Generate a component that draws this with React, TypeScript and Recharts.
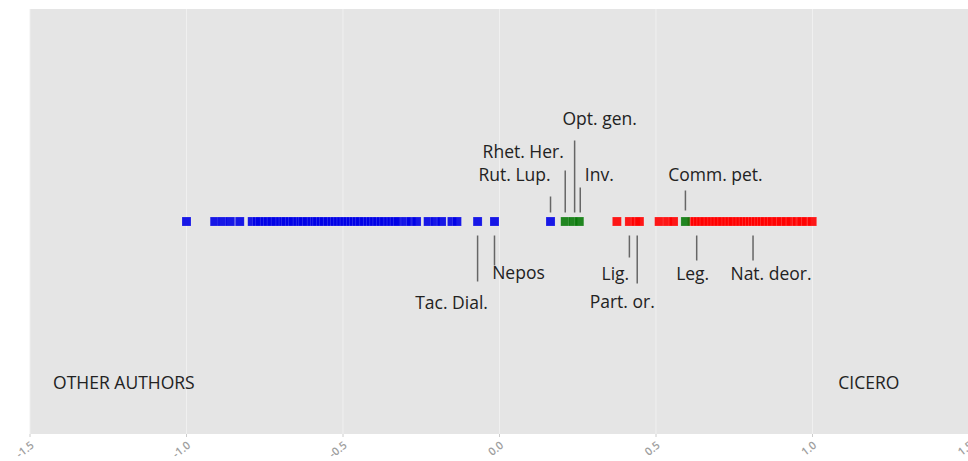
import {
  CartesianGrid,
  ReferenceDot,
  Scatter,
  ScatterChart,
  XAxis,
  YAxis,
} from "recharts";

// positions along the discriminant axis
const otherAuthors = [
  -1.0, -0.91, -0.885, -0.86, -0.83, -0.79, -0.775, -0.765, -0.75, -0.74, -0.728, -0.715,
  -0.7, -0.69, -0.682, -0.67, -0.66, -0.645, -0.635, -0.627, -0.615, -0.6, -0.59, -0.582,
  -0.57, -0.56, -0.548, -0.535, -0.525, -0.515, -0.505, -0.495, -0.485, -0.475, -0.465,
  -0.455, -0.445, -0.432, -0.42, -0.41, -0.4, -0.39, -0.378, -0.368, -0.355, -0.345,
  -0.335, -0.325, -0.3, -0.282, -0.265, -0.228, -0.205, -0.185, -0.152, -0.136, -0.07,
  -0.016, 0.163,
];
const disputed = [0.21, 0.235, 0.255, 0.594];
const cicero = [
  0.375, 0.415, 0.435, 0.447, 0.51, 0.537, 0.556, 0.615, 0.625, 0.635, 0.645, 0.655, 0.668,
  0.68, 0.69, 0.7, 0.712, 0.725, 0.735, 0.745, 0.76, 0.77, 0.78, 0.79, 0.8, 0.81, 0.82,
  0.83, 0.838, 0.848, 0.86, 0.87, 0.885, 0.9, 0.915, 0.93, 0.95, 0.965, 0.98, 0.999,
];

const workNames = [
  "Tac. Dial.", "Nepos", "Rut. Lup.", "Rhet. Her.", "Opt. gen.", "Inv.",
  "Lig.", "Part. or.", "Comm. pet.", "Leg.", "Nat. deor.",
];
const workValues = [-0.07, -0.016, 0.163, 0.21, 0.24, 0.258, 0.415, 0.44, 0.594, 0.63, 0.81];

const xTicks = [-1.5, -1.0, -0.5, 0.0, 0.5, 1.0, 1.5];

// label placement relative to the point: line start/end and text centre (px)
const labelLayout: Record<string, { y1: number; y2: number; dx: number; dy: number }> = {
  "Tac. Dial.": { y1: 14, y2: 60, dx: -26, dy: 80 },
  Nepos: { y1: 14, y2: 44, dx: 24, dy: 50 },
  "Rut. Lup.": { y1: -9, y2: -25, dx: -36, dy: -48 },
  "Rhet. Her.": { y1: -9, y2: -51, dx: -42, dy: -71 },
  "Opt. gen.": { y1: -9, y2: -81, dx: 25, dy: -104 },
  "Inv.": { y1: -9, y2: -34, dx: 19, dy: -48 },
  "Lig.": { y1: 14, y2: 36, dx: -14, dy: 51 },
  "Part. or.": { y1: 14, y2: 62, dx: -15, dy: 79 },
  "Comm. pet.": { y1: -11, y2: -31, dx: 30, dy: -48 },
  "Leg.": { y1: 14, y2: 39, dx: -4, dy: 51 },
  "Nat. deor.": { y1: 14, y2: 39, dx: 18, dy: 51 },
};

const FONT = "'Open Sans', sans-serif";

const toPoints = (xs: number[]) => xs.map((x) => ({ x, y: 0.5 }));
const works = workNames.map((name, i) => ({ name, x: workValues[i], y: 0.5 }));

function square(color: string) {
  return (props: any) => {
    const { cx, cy } = props;
    if (cx == null || cy == null) return <g />;
    return (
      <rect
        x={cx - 4.5}
        y={cy - 4.5}
        width={9}
        height={9}
        fill={color}
        fillOpacity={0.9}
        stroke="#ffffff"
        strokeOpacity={0.25}
        strokeWidth={0.6}
      />
    );
  };
}

function WorkLabel(props: any) {
  const { cx, cy, payload } = props;
  if (cx == null || cy == null) return <g />;
  const l = labelLayout[payload.name];
  return (
    <g>
      <line x1={cx} x2={cx} y1={cy + l.y1} y2={cy + l.y2} stroke="#666" strokeWidth={1.5} />
      <text
        x={cx + l.dx}
        y={cy + l.dy}
        textAnchor="middle"
        dominantBaseline="central"
        fontFamily={FONT}
        fontSize={17.5}
        fill="#222"
      >
        {payload.name}
      </text>
    </g>
  );
}

function AngledTick(props: any) {
  const { x, y, payload } = props;
  return (
    <g transform={`translate(${x},${y})`}>
      <text
        x={0}
        y={0}
        dy={9}
        dx={-1}
        textAnchor="end"
        transform="rotate(-38)"
        fontFamily={FONT}
        fontSize={11}
        fontWeight={600}
        fill="#a0a0a0"
      >
        {payload.value.toFixed(1)}
      </text>
    </g>
  );
}

export default function App() {
  return (
    <div style={{ position: "absolute", left: 0, top: 0, background: "#fff" }}>
      <ScatterChart width={970} height={461} margin={{ top: 9, right: 1, bottom: 0, left: 30 }}>
        <CartesianGrid horizontal={false} stroke="#f0f0f0" fill="#e5e5e5" strokeWidth={1} />
        <XAxis
          type="number"
          dataKey="x"
          domain={[-1.5, 1.5]}
          ticks={xTicks}
          axisLine={false}
          tickLine={{ stroke: "#ccc" }}
          tickSize={3}
          height={27}
          tick={<AngledTick />}
          interval={0}
        />
        <YAxis type="number" dataKey="y" domain={[0, 1]} hide />
        <Scatter data={toPoints(otherAuthors)} shape={square("#0000e6")} isAnimationActive={false} />
        <Scatter data={toPoints(cicero)} shape={square("#ff0000")} isAnimationActive={false} />
        <Scatter data={toPoints(disputed)} shape={square("#0a7a0a")} isAnimationActive={false} />
        <Scatter data={works} shape={<WorkLabel />} isAnimationActive={false} />
        <ReferenceDot
          x={-1.2}
          y={0.12}
          r={0}
          label={{ value: "OTHER AUTHORS", fontFamily: FONT, fontSize: 17.5, fill: "#222" }}
        />
        <ReferenceDot
          x={1.18}
          y={0.12}
          r={0}
          label={{ value: "CICERO", fontFamily: FONT, fontSize: 17.5, fill: "#222" }}
        />
      </ScatterChart>
    </div>
  );
}
